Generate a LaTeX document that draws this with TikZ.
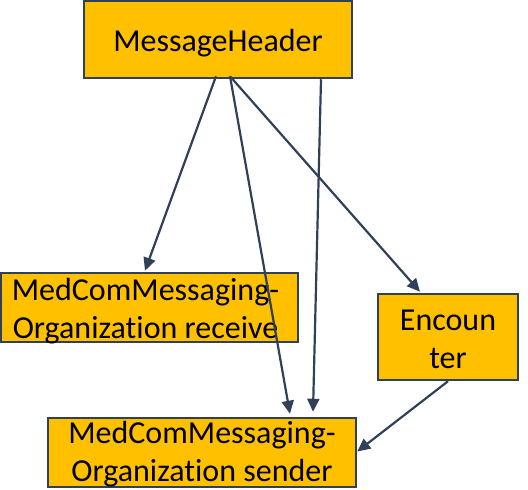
\documentclass[tikz,border=0pt]{standalone}
\usepackage{fontspec}
\setmainfont{Carlito}[Ligatures=NoCommon]
\usetikzlibrary{arrows.meta}
\definecolor{boxfill}{HTML}{FFC000}
\definecolor{edge}{HTML}{2F4058}
\tikzset{
  box/.style={draw=edge, fill=boxfill, line width=2.5pt, rectangle, inner sep=0pt},
  txt/.style={font=\fontsize{32}{38}\selectfont, align=center, inner sep=0pt, text=black},
  conn/.style={draw=edge, line width=2.2pt, -{Triangle[length=13pt,width=12pt]}},
}
\begin{document}
\begin{tikzpicture}[x=1pt,y=-1pt]
\useasboundingbox (0,0) rectangle (528,490);
\node[box, minimum width=268pt, minimum height=77pt,
  label={[txt, yshift=-3.5pt]center:MessageHeader}] (mh) at (218,39.5) {};
\node[box, minimum width=297pt, minimum height=69pt,
  label={[txt, xshift=-4pt, yshift=-3.5pt]center:MedComMessaging-\\Organization receive}] (recv) at (149.5,307.5) {};
\node[box, minimum width=140pt, minimum height=86pt,
  label={[txt, yshift=-2pt]center:Encoun\\ter}] (enc) at (448,337) {};
\node[box, minimum width=308pt, minimum height=69pt,
  label={[txt, yshift=-1.5pt]center:MedComMessaging-\\Organization sender}] (snd) at (202,452.5) {};
\draw[conn] ([xshift=-2pt,yshift=3pt]mh.south) -- ([xshift=-4.5pt,yshift=1pt]recv.north);
\draw[conn] ([xshift=12pt,yshift=3pt]mh.south) -- ([xshift=88pt,yshift=3pt]snd.north);
\draw[conn] ([xshift=12pt,yshift=3pt]mh.south) -- ([xshift=-28pt,yshift=1pt]enc.north);
\draw[conn] ([xshift=103pt]mh.south) -- ([xshift=111pt,yshift=5pt]snd.north);
\draw[conn] (enc.south) -- ([yshift=1pt]snd.east);
\end{tikzpicture}
\end{document}
